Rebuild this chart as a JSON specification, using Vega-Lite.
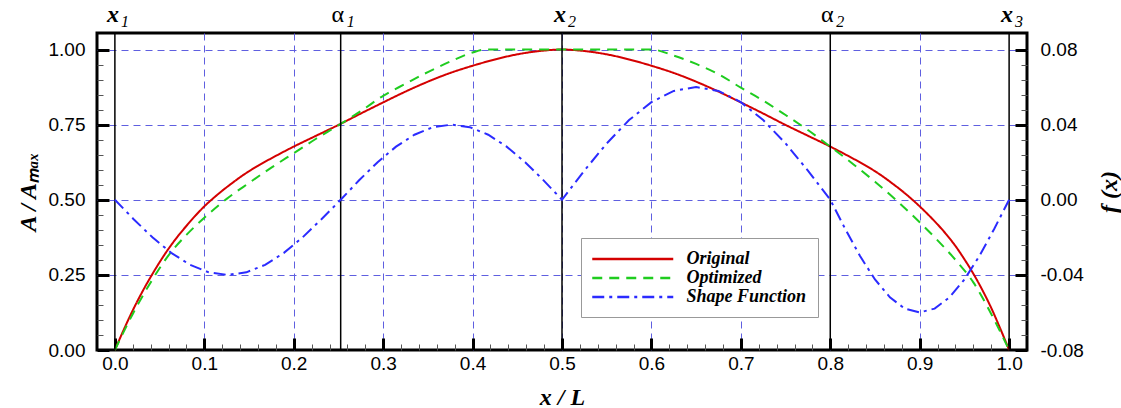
{
  "$schema": "https://vega.github.io/schema/vega-lite/v6.json",
  "width": 930,
  "height": 317,
  "autosize": "none",
  "padding": {"left": 97, "top": 33, "right": 94, "bottom": 58},
  "datasets": {
    "markers": [
      {"x": 0, "sym": "x", "sub": "1"},
      {"x": 0.2525, "sym": "α", "sub": "1"},
      {"x": 0.5, "sym": "x", "sub": "2"},
      {"x": 0.8, "sym": "α", "sub": "2"},
      {"x": 1.0, "sym": "x", "sub": "3"}
    ],
    "curves": [
      {"series": "Original", "x": 0, "v": 0},
      {"series": "Original", "x": 0.01, "v": 0.068},
      {"series": "Original", "x": 0.02, "v": 0.132},
      {"series": "Original", "x": 0.03, "v": 0.19},
      {"series": "Original", "x": 0.04, "v": 0.243},
      {"series": "Original", "x": 0.05, "v": 0.292},
      {"series": "Original", "x": 0.06, "v": 0.337},
      {"series": "Original", "x": 0.07, "v": 0.377},
      {"series": "Original", "x": 0.08, "v": 0.413},
      {"series": "Original", "x": 0.09, "v": 0.447},
      {"series": "Original", "x": 0.1, "v": 0.478},
      {"series": "Original", "x": 0.11, "v": 0.505},
      {"series": "Original", "x": 0.12, "v": 0.53},
      {"series": "Original", "x": 0.13, "v": 0.553},
      {"series": "Original", "x": 0.14, "v": 0.575},
      {"series": "Original", "x": 0.15, "v": 0.595},
      {"series": "Original", "x": 0.16, "v": 0.613},
      {"series": "Original", "x": 0.18, "v": 0.646},
      {"series": "Original", "x": 0.2, "v": 0.677},
      {"series": "Original", "x": 0.225, "v": 0.713},
      {"series": "Original", "x": 0.25, "v": 0.749},
      {"series": "Original", "x": 0.275, "v": 0.787},
      {"series": "Original", "x": 0.3, "v": 0.824},
      {"series": "Original", "x": 0.325, "v": 0.86},
      {"series": "Original", "x": 0.35, "v": 0.893},
      {"series": "Original", "x": 0.375, "v": 0.922},
      {"series": "Original", "x": 0.4, "v": 0.946},
      {"series": "Original", "x": 0.425, "v": 0.967},
      {"series": "Original", "x": 0.45, "v": 0.984},
      {"series": "Original", "x": 0.475, "v": 0.995},
      {"series": "Original", "x": 0.5, "v": 1.0},
      {"series": "Original", "x": 0.525, "v": 0.995},
      {"series": "Original", "x": 0.55, "v": 0.984},
      {"series": "Original", "x": 0.575, "v": 0.967},
      {"series": "Original", "x": 0.6, "v": 0.946},
      {"series": "Original", "x": 0.625, "v": 0.922},
      {"series": "Original", "x": 0.65, "v": 0.893},
      {"series": "Original", "x": 0.675, "v": 0.86},
      {"series": "Original", "x": 0.7, "v": 0.824},
      {"series": "Original", "x": 0.725, "v": 0.787},
      {"series": "Original", "x": 0.75, "v": 0.749},
      {"series": "Original", "x": 0.775, "v": 0.713},
      {"series": "Original", "x": 0.8, "v": 0.677},
      {"series": "Original", "x": 0.82, "v": 0.646},
      {"series": "Original", "x": 0.84, "v": 0.613},
      {"series": "Original", "x": 0.85, "v": 0.595},
      {"series": "Original", "x": 0.86, "v": 0.575},
      {"series": "Original", "x": 0.87, "v": 0.553},
      {"series": "Original", "x": 0.88, "v": 0.53},
      {"series": "Original", "x": 0.89, "v": 0.505},
      {"series": "Original", "x": 0.9, "v": 0.478},
      {"series": "Original", "x": 0.91, "v": 0.449},
      {"series": "Original", "x": 0.92, "v": 0.418},
      {"series": "Original", "x": 0.93, "v": 0.384},
      {"series": "Original", "x": 0.94, "v": 0.346},
      {"series": "Original", "x": 0.95, "v": 0.302},
      {"series": "Original", "x": 0.96, "v": 0.254},
      {"series": "Original", "x": 0.97, "v": 0.2},
      {"series": "Original", "x": 0.98, "v": 0.14},
      {"series": "Original", "x": 0.99, "v": 0.072},
      {"series": "Original", "x": 1.0, "v": 0},
      {"series": "Optimized", "x": 0, "v": 0},
      {"series": "Optimized", "x": 0.02, "v": 0.12},
      {"series": "Optimized", "x": 0.04, "v": 0.225},
      {"series": "Optimized", "x": 0.06, "v": 0.315},
      {"series": "Optimized", "x": 0.08, "v": 0.383},
      {"series": "Optimized", "x": 0.1, "v": 0.44},
      {"series": "Optimized", "x": 0.125, "v": 0.503},
      {"series": "Optimized", "x": 0.15, "v": 0.556},
      {"series": "Optimized", "x": 0.175, "v": 0.607},
      {"series": "Optimized", "x": 0.2, "v": 0.655},
      {"series": "Optimized", "x": 0.225, "v": 0.703},
      {"series": "Optimized", "x": 0.25, "v": 0.748},
      {"series": "Optimized", "x": 0.275, "v": 0.795},
      {"series": "Optimized", "x": 0.3, "v": 0.846},
      {"series": "Optimized", "x": 0.325, "v": 0.886},
      {"series": "Optimized", "x": 0.35, "v": 0.925},
      {"series": "Optimized", "x": 0.375, "v": 0.96},
      {"series": "Optimized", "x": 0.4, "v": 0.99},
      {"series": "Optimized", "x": 0.415, "v": 1.0},
      {"series": "Optimized", "x": 0.45, "v": 1.0},
      {"series": "Optimized", "x": 0.5, "v": 1.0},
      {"series": "Optimized", "x": 0.55, "v": 1.0},
      {"series": "Optimized", "x": 0.6, "v": 1.0},
      {"series": "Optimized", "x": 0.625, "v": 0.98},
      {"series": "Optimized", "x": 0.65, "v": 0.952},
      {"series": "Optimized", "x": 0.675, "v": 0.918},
      {"series": "Optimized", "x": 0.7, "v": 0.873},
      {"series": "Optimized", "x": 0.725, "v": 0.83},
      {"series": "Optimized", "x": 0.75, "v": 0.782},
      {"series": "Optimized", "x": 0.775, "v": 0.732},
      {"series": "Optimized", "x": 0.8, "v": 0.677},
      {"series": "Optimized", "x": 0.825, "v": 0.62},
      {"series": "Optimized", "x": 0.85, "v": 0.56},
      {"series": "Optimized", "x": 0.875, "v": 0.495},
      {"series": "Optimized", "x": 0.9, "v": 0.425},
      {"series": "Optimized", "x": 0.92, "v": 0.365},
      {"series": "Optimized", "x": 0.94, "v": 0.3},
      {"series": "Optimized", "x": 0.96, "v": 0.225},
      {"series": "Optimized", "x": 0.98, "v": 0.12},
      {"series": "Optimized", "x": 1.0, "v": 0}
    ],
    "shape": [
      {"series": "Shape Function", "x": 0, "f": 0},
      {"series": "Shape Function", "x": 0.021, "f": -0.01035},
      {"series": "Shape Function", "x": 0.042, "f": -0.02},
      {"series": "Shape Function", "x": 0.063, "f": -0.02828},
      {"series": "Shape Function", "x": 0.084, "f": -0.03464},
      {"series": "Shape Function", "x": 0.105, "f": -0.03864},
      {"series": "Shape Function", "x": 0.126, "f": -0.04},
      {"series": "Shape Function", "x": 0.147, "f": -0.03864},
      {"series": "Shape Function", "x": 0.168, "f": -0.03464},
      {"series": "Shape Function", "x": 0.189, "f": -0.02828},
      {"series": "Shape Function", "x": 0.21, "f": -0.02},
      {"series": "Shape Function", "x": 0.231, "f": -0.01035},
      {"series": "Shape Function", "x": 0.2525, "f": 0},
      {"series": "Shape Function", "x": 0.2731, "f": 0.01035},
      {"series": "Shape Function", "x": 0.2938, "f": 0.02},
      {"series": "Shape Function", "x": 0.3144, "f": 0.02828},
      {"series": "Shape Function", "x": 0.335, "f": 0.03464},
      {"series": "Shape Function", "x": 0.3556, "f": 0.03864},
      {"series": "Shape Function", "x": 0.3763, "f": 0.04},
      {"series": "Shape Function", "x": 0.3969, "f": 0.03864},
      {"series": "Shape Function", "x": 0.4175, "f": 0.03464},
      {"series": "Shape Function", "x": 0.4381, "f": 0.02828},
      {"series": "Shape Function", "x": 0.4588, "f": 0.02},
      {"series": "Shape Function", "x": 0.4794, "f": 0.01035},
      {"series": "Shape Function", "x": 0.5, "f": 0},
      {"series": "Shape Function", "x": 0.525, "f": 0.01553},
      {"series": "Shape Function", "x": 0.55, "f": 0.03},
      {"series": "Shape Function", "x": 0.575, "f": 0.04243},
      {"series": "Shape Function", "x": 0.6, "f": 0.05196},
      {"series": "Shape Function", "x": 0.625, "f": 0.05796},
      {"series": "Shape Function", "x": 0.65, "f": 0.06},
      {"series": "Shape Function", "x": 0.675, "f": 0.05796},
      {"series": "Shape Function", "x": 0.7, "f": 0.05196},
      {"series": "Shape Function", "x": 0.725, "f": 0.04243},
      {"series": "Shape Function", "x": 0.75, "f": 0.03},
      {"series": "Shape Function", "x": 0.775, "f": 0.01553},
      {"series": "Shape Function", "x": 0.8, "f": 0},
      {"series": "Shape Function", "x": 0.8167, "f": -0.01553},
      {"series": "Shape Function", "x": 0.8333, "f": -0.03},
      {"series": "Shape Function", "x": 0.85, "f": -0.04243},
      {"series": "Shape Function", "x": 0.8667, "f": -0.05196},
      {"series": "Shape Function", "x": 0.8833, "f": -0.05796},
      {"series": "Shape Function", "x": 0.9, "f": -0.06},
      {"series": "Shape Function", "x": 0.9167, "f": -0.05796},
      {"series": "Shape Function", "x": 0.9333, "f": -0.05196},
      {"series": "Shape Function", "x": 0.95, "f": -0.04243},
      {"series": "Shape Function", "x": 0.9667, "f": -0.03},
      {"series": "Shape Function", "x": 0.9833, "f": -0.01553},
      {"series": "Shape Function", "x": 1.0, "f": 0}
    ]
  },
  "layer": [
    {
      "data": {"name": "curves"},
      "mark": {"type": "line", "interpolate": "monotone", "strokeWidth": 2},
      "encoding": {
        "x": {
          "field": "x", "type": "quantitative",
          "scale": {"domain": [-0.02, 1.02], "nice": false, "zero": false},
          "axis": {
            "orient": "bottom",
            "title": "x / L",
            "values": [0,0.02,0.04,0.06,0.08,0.1,0.12,0.14,0.16,0.18,0.2,0.22,0.24,0.26,0.28,0.3,0.32,0.34,0.36,0.38,0.4,0.42,0.44,0.46,0.48,0.5,0.52,0.54,0.56,0.58,0.6,0.62,0.64,0.66,0.68,0.7,0.72,0.74,0.76,0.78,0.8,0.82,0.84,0.86,0.88,0.9,0.92,0.94,0.96,0.98,1.0],
            "labelExpr": "round(datum.value*100) % 10 == 0 ? format(datum.value, '.1f') : ''",
            "labelOverlap": false,
            "tickSize": {"condition": {"test": "round(datum.value*100) % 10 == 0", "value": -12}, "value": -6},
            "tickWidth": {"condition": {"test": "round(datum.value*100) % 10 == 0", "value": 3}, "value": 1},
            "tickColor": {"condition": {"test": "round(datum.value*100) % 10 == 0", "value": "black"}, "value": "#555555"},
            "gridOpacity": {"condition": {"test": "round(datum.value*100) % 10 == 0 && datum.value > 0.001 && datum.value < 0.999", "value": 1}, "value": 0},
            "grid": true,
            "labelPadding": 16,
            "titlePadding": 6
          }
        },
        "y": {
          "field": "v", "type": "quantitative",
          "scale": {"domain": [0, 1.055], "nice": false, "zero": false},
          "axis": {
            "orient": "left",
            "title": "A / Aₘₐₓ",
            "values": [0,0.05,0.1,0.15,0.2,0.25,0.3,0.35,0.4,0.45,0.5,0.55,0.6,0.65,0.7,0.75,0.8,0.85,0.9,0.95,1.0],
            "labelExpr": "round(datum.value*100) % 25 == 0 ? format(datum.value, '.2f') : ''",
            "labelOverlap": false,
            "tickSize": {"condition": {"test": "round(datum.value*100) % 25 == 0", "value": -12}, "value": -6},
            "tickWidth": {"condition": {"test": "round(datum.value*100) % 25 == 0", "value": 3}, "value": 1},
            "tickColor": {"condition": {"test": "round(datum.value*100) % 25 == 0", "value": "black"}, "value": "#555555"},
            "gridOpacity": {"condition": {"test": "round(datum.value*100) % 25 == 0 && datum.value > 0.001", "value": 1}, "value": 0},
            "grid": true,
            "labelPadding": 24,
            "titlePadding": 8
          }
        },
        "color": {
          "field": "series", "type": "nominal",
          "scale": {"domain": ["Original", "Optimized", "Shape Function"], "range": ["#d40000", "#1fcc1f", "#2b2bff"]},
          "legend": {"title": null}
        },
        "strokeDash": {
          "field": "series", "type": "nominal",
          "scale": {"domain": ["Original", "Optimized", "Shape Function"], "range": [[1, 0], [10, 7], [12, 5, 3, 5]]},
          "legend": {"title": null}
        }
      }
    },
    {
      "data": {"name": "markers"},
      "mark": {"type": "rule", "color": "black", "strokeWidth": 1.5},
      "encoding": {
        "x": {"field": "x", "type": "quantitative", "scale": {"domain": [-0.02, 1.02], "nice": false, "zero": false}, "axis": null}
      }
    },
    {
      "data": {"name": "markers"},
      "transform": [{"filter": "datum.sym == 'x'"}],
      "mark": {"type": "text", "font": "Liberation Serif", "fontSize": 24, "fontStyle": "italic", "fontWeight": "bold", "align": "center", "baseline": "alphabetic", "dx": -2, "dy": -11, "color": "black"},
      "encoding": {
        "x": {"field": "x", "type": "quantitative", "scale": {"domain": [-0.02, 1.02], "nice": false, "zero": false}, "axis": null},
        "y": {"datum": 1.055, "type": "quantitative", "scale": {"domain": [0, 1.055], "nice": false, "zero": false}, "axis": null},
        "text": {"field": "sym"}
      }
    },
    {
      "data": {"name": "markers"},
      "transform": [{"filter": "datum.sym == 'α'"}],
      "mark": {"type": "text", "font": "Liberation Serif", "fontSize": 24, "align": "center", "baseline": "alphabetic", "dx": -3, "dy": -11, "color": "black"},
      "encoding": {
        "x": {"field": "x", "type": "quantitative", "scale": {"domain": [-0.02, 1.02], "nice": false, "zero": false}, "axis": null},
        "y": {"datum": 1.055, "type": "quantitative", "scale": {"domain": [0, 1.055], "nice": false, "zero": false}, "axis": null},
        "text": {"field": "sym"}
      }
    },
    {
      "data": {"name": "markers"},
      "mark": {"type": "text", "font": "Liberation Serif", "fontSize": 16, "fontStyle": "italic", "align": "left", "baseline": "alphabetic", "dx": 6, "dy": -6, "color": "black"},
      "encoding": {
        "x": {"field": "x", "type": "quantitative", "scale": {"domain": [-0.02, 1.02], "nice": false, "zero": false}, "axis": null},
        "y": {"datum": 1.055, "type": "quantitative", "scale": {"domain": [0, 1.055], "nice": false, "zero": false}, "axis": null},
        "text": {"field": "sub"}
      }
    },
    {
      "data": {"name": "shape"},
      "mark": {"type": "line", "strokeWidth": 2},
      "encoding": {
        "x": {"field": "x", "type": "quantitative", "scale": {"domain": [-0.02, 1.02], "nice": false, "zero": false}, "axis": null},
        "y": {
          "field": "f", "type": "quantitative",
          "scale": {"domain": [-0.08, 0.0888], "nice": false, "zero": false},
          "axis": {
            "orient": "right",
            "title": "f (x)",
            "titleAngle": 270,
            "titleBaseline": "top",
            "values": [-0.08,-0.072,-0.064,-0.056,-0.048,-0.04,-0.032,-0.024,-0.016,-0.008,0,0.008,0.016,0.024,0.032,0.04,0.048,0.056,0.064,0.072,0.08],
            "labelExpr": "round(datum.value*1000) % 40 == 0 ? replace(format(datum.value, '.2f'), '−', '-') : ''",
            "labelOverlap": false,
            "tickSize": {"condition": {"test": "round(datum.value*1000) % 40 == 0", "value": -12}, "value": -6},
            "tickWidth": {"condition": {"test": "round(datum.value*1000) % 40 == 0", "value": 3}, "value": 1},
            "tickColor": {"condition": {"test": "round(datum.value*1000) % 40 == 0", "value": "black"}, "value": "#555555"},
            "grid": false,
            "labelPadding": 25,
            "titlePadding": 14
          }
        },
        "color": {
          "field": "series", "type": "nominal",
          "scale": {"domain": ["Original", "Optimized", "Shape Function"], "range": ["#d40000", "#1fcc1f", "#2b2bff"]},
          "legend": {"title": null}
        },
        "strokeDash": {
          "field": "series", "type": "nominal",
          "scale": {"domain": ["Original", "Optimized", "Shape Function"], "range": [[1, 0], [10, 7], [12, 5, 3, 5]]},
          "legend": {"title": null}
        }
      }
    }
  ],
  "resolve": {"scale": {"y": "independent"}, "axis": {"x": "independent", "y": "independent"}},
  "config": {
    "view": {"stroke": "black", "strokeWidth": 3},
    "axis": {
      "domain": false,
      "labelFont": "Liberation Sans",
      "labelFontSize": 19,
      "labelColor": "black",
      "titleFont": "Liberation Serif",
      "titleFontSize": 24,
      "titleFontStyle": "italic",
      "titleFontWeight": "bold",
      "titleColor": "black",
      "gridColor": "#5f5fe0",
      "gridDash": [7, 5],
      "gridWidth": 1,
      "labelOverlap": false,
      "labelFlush": false,
      "labelBound": false
    },
    "legend": {
      "orient": "none",
      "legendX": 484,
      "legendY": 205,
      "padding": 11,
      "rowPadding": 0,
      "strokeColor": "#999999",
      "strokeWidth": 1,
      "fillColor": "white",
      "cornerRadius": 0,
      "symbolType": "M-4.765,0L4.765,0",
      "symbolSize": 289,
      "symbolStrokeWidth": 2.5,
      "symbolOffset": 30.75,
      "labelOffset": 43.75,
      "labelFont": "Liberation Serif",
      "labelFontSize": 18,
      "labelFontStyle": "italic",
      "labelFontWeight": "bold",
      "labelColor": "black"
    }
  }
}
